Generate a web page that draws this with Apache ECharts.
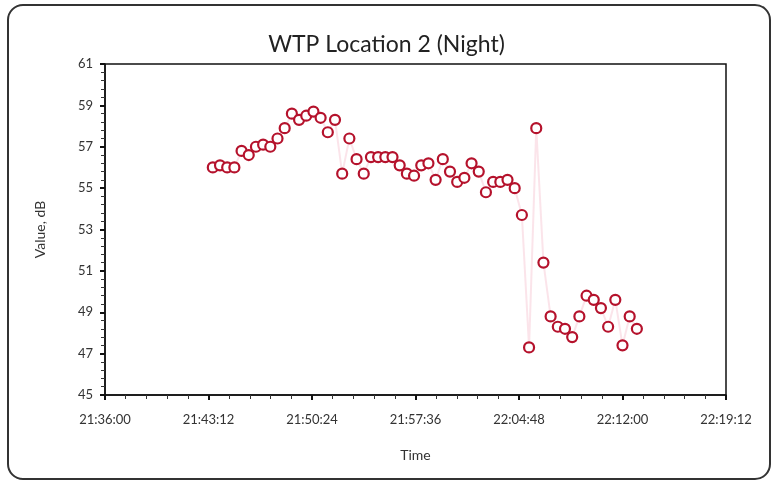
<!DOCTYPE html>
<html>
<head>
<meta charset="utf-8">
<script src="https://cdn.jsdelivr.net/npm/echarts@6/dist/echarts.min.js"></script>
<style>
  html, body { margin: 0; padding: 0; background: #fff; }
  #frame {
    position: absolute; left: 7px; top: 4px; width: 764px; height: 476px;
    border: 2px solid #333; border-radius: 16px; box-sizing: border-box;
  }
  #chart { position: absolute; left: 0; top: 0; width: 773px; height: 482px; }
</style>
</head>
<body>
<div id="frame"></div>
<div id="chart"></div>
<script>
// measurement times (every 30 s)
var times = [
  '21:43:30', '21:44:00', '21:44:30', '21:45:00', '21:45:30', '21:46:00', '21:46:30', '21:47:00',
  '21:47:30', '21:48:00', '21:48:30', '21:49:00', '21:49:30', '21:50:00', '21:50:30', '21:51:00',
  '21:51:30', '21:52:00', '21:52:30', '21:53:00', '21:53:30', '21:54:00', '21:54:30', '21:55:00',
  '21:55:30', '21:56:00', '21:56:30', '21:57:00', '21:57:30', '21:58:00', '21:58:30', '21:59:00',
  '21:59:30', '22:00:00', '22:00:30', '22:01:00', '22:01:30', '22:02:00', '22:02:30', '22:03:00',
  '22:03:30', '22:04:00', '22:04:30', '22:05:00', '22:05:30', '22:06:00', '22:06:30', '22:07:00',
  '22:07:30', '22:08:00', '22:08:30', '22:09:00', '22:09:30', '22:10:00', '22:10:30', '22:11:00',
  '22:11:30', '22:12:00', '22:12:30', '22:13:00'
]
// level, dB
var values = [
  56.0, 56.1, 56.0, 56.0, 56.8, 56.6, 57.0, 57.1,
  57.0, 57.4, 57.9, 58.6, 58.3, 58.5, 58.7, 58.4,
  57.7, 58.3, 55.7, 57.4, 56.4, 55.7, 56.5, 56.5,
  56.5, 56.5, 56.1, 55.7, 55.6, 56.1, 56.2, 55.4,
  56.4, 55.8, 55.3, 55.5, 56.2, 55.8, 54.8, 55.3,
  55.3, 55.4, 55.0, 53.7, 47.3, 57.9, 51.4, 48.8,
  48.3, 48.2, 47.8, 48.8, 49.8, 49.6, 49.2, 48.3,
  49.6, 47.4, 48.8, 48.2
]
var xMin = '21:36:00'
var xMax = '22:19:12'

function toSec(t) {
  var p = t.split(':')
  return (+p[0]) * 3600 + (+p[1]) * 60 + (+p[2])
}
function fmt(s) {
  var h = Math.floor(s / 3600)
  var m = Math.floor((s % 3600) / 60)
  var sec = s % 60
  return h + ':' + (m < 10 ? '0' : '') + m + ':' + (sec < 10 ? '0' : '') + sec
}

var data = []
for (var i = 0; i < times.length; i++) {
  data.push([toSec(times[i]), values[i]])
}

var font = 'Lato, "Open Sans", sans-serif'
var chart = echarts.init(document.getElementById('chart'))
var option = {
  animation: false,
  title: {
    text: 'WTP Location 2 (Night)',
    left: 'center',
    top: 28,
    textStyle: { fontFamily: font, fontSize: 23, fontWeight: 'normal', color: '#222' }
  },
  grid: {
    left: 105, right: 47, top: 64, bottom: 87,
    show: true, borderColor: '#111', borderWidth: 1.5, backgroundColor: '#fff'
  },
  xAxis: {
    type: 'value',
    min: toSec(xMin),
    max: toSec(xMax),
    interval: 432,
    name: 'Time',
    nameLocation: 'middle',
    nameGap: 53,
    nameTextStyle: { fontFamily: font, fontSize: 14, color: '#333' },
    axisLine: { onZero: false, lineStyle: { color: '#111', width: 1.5 } },
    axisTick: { length: 5, lineStyle: { color: '#111', width: 2 } },
    minorTick: { show: true, splitNumber: 5, length: 4, lineStyle: { color: '#333' } },
    splitLine: { show: false },
    axisLabel: {
      fontFamily: font, fontSize: 13, color: '#333', margin: 18,
      formatter: function(v) { return fmt(v) }
    }
  },
  yAxis: {
    type: 'value',
    min: 45,
    max: 61,
    interval: 2,
    name: 'Value, dB',
    nameLocation: 'middle',
    nameGap: 58,
    nameTextStyle: { fontFamily: font, fontSize: 14, color: '#333' },
    axisLine: { show: true, lineStyle: { color: '#111', width: 1.5 } },
    axisTick: { show: true, length: 5, lineStyle: { color: '#111', width: 2 } },
    minorTick: { show: true, splitNumber: 5, length: 4, lineStyle: { color: '#333' } },
    splitLine: { show: false },
    axisLabel: { fontFamily: font, fontSize: 13, color: '#333', margin: 12 }
  },
  series: [{
    type: 'line',
    data: data,
    symbol: 'circle',
    symbolSize: 10,
    showAllSymbol: true,
    lineStyle: { color: 'rgba(235, 120, 150, 0.2)', width: 2 },
    itemStyle: { color: '#fff', borderColor: '#b5122c', borderWidth: 2.2 }
  }]
}
chart.setOption(option)
</script>
</body>
</html>
